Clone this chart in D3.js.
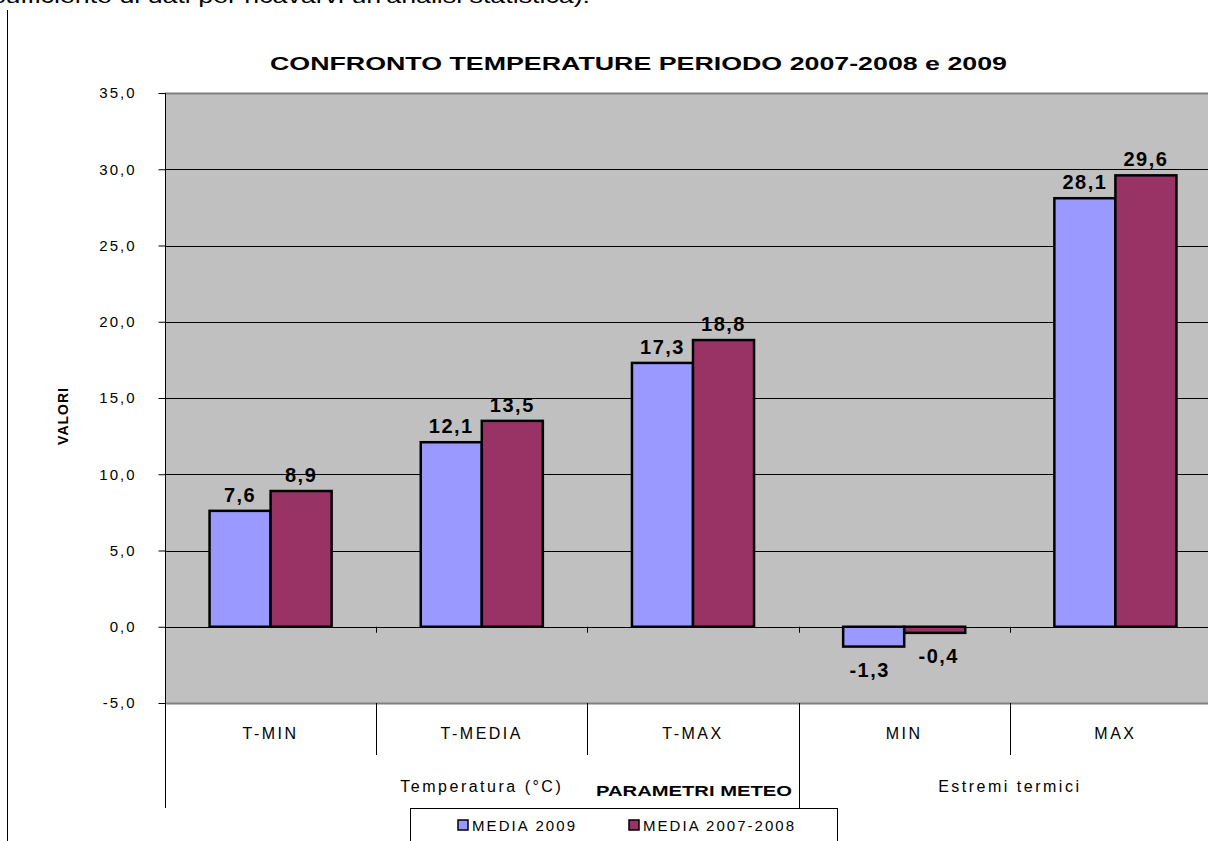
<!DOCTYPE html>
<html>
<head>
<meta charset="utf-8">
<script src="https://cdn.jsdelivr.net/npm/d3@7"></script>
<style>
body { margin: 0; background: #fff; }
svg { display: block; font-family: Arial, "Liberation Sans", sans-serif; }
</style>
</head>
<body>
<script>
// dati
var categories = ["T-MIN", "T-MEDIA", "T-MAX", "MIN", "MAX"];
var groups = [{name: "Temperatura (°C)", from: 0, to: 3}, {name: "Estremi termici", from: 3, to: 5}];
var series = ["MEDIA 2009", "MEDIA 2007-2008"];
var media2009 = [7.6, 12.1, 17.3, -1.3, 28.1];
var media0708 = [8.9, 13.5, 18.8, -0.4, 29.6];
var colors = ["#9999FF", "#993366"];
var yTicks = [-5, 0, 5, 10, 15, 20, 25, 30, 35];

var W = 1208, H = 841;
var svg = d3.select("body").append("svg").attr("width", W).attr("height", H);

var pLeft = 165, pRight = 1221, pTop = 93, pBottom = 703;
var fmt = function(v){ return d3.format(".1f")(v).replace(".", ",").replace("\u2212", "-"); };

var x = d3.scaleBand().domain(categories).range([pLeft, pRight]);
var xs = d3.scaleBand().domain(series).range([0, x.bandwidth()]).paddingInner(0).paddingOuter(0.73);
var y = d3.scaleLinear().domain([-5, 35]).range([pBottom, pTop]);

// testo tagliato in alto
svg.append("text").attr("x", -8).attr("y", 3).attr("font-size", 21).attr("fill", "#000")
    .attr("textLength", 598).attr("lengthAdjust", "spacingAndGlyphs")
    .text("sufficiente di dati per ricavarvi un'analisi statistica).");

// riga verticale a sinistra
svg.append("line").attr("x1", 7.5).attr("x2", 7.5).attr("y1", 10).attr("y2", H).attr("stroke", "#000");

// area grafico
svg.append("rect").attr("x", pLeft).attr("y", pTop).attr("width", pRight - pLeft).attr("height", pBottom - pTop)
    .attr("fill", "#C0C0C0");

// griglia
svg.selectAll(".grid").data(yTicks.filter(function(d){ return d > -5 && d < 35; })).enter().append("line")
    .attr("x1", pLeft).attr("x2", pRight)
    .attr("y1", function(d){ return Math.round(y(d)) + 0.5; })
    .attr("y2", function(d){ return Math.round(y(d)) + 0.5; })
    .attr("stroke", "#000");
[35, -5].forEach(function(v){
    svg.append("line").attr("x1", pLeft).attr("x2", pRight)
        .attr("y1", Math.round(y(v)) + 0.5).attr("y2", Math.round(y(v)) + 0.5)
        .attr("stroke", "#808080").attr("stroke-width", 2);
});

// asse y
var yAxis = svg.append("g").attr("transform", "translate(" + (pLeft + 0.5) + ",0)")
    .call(d3.axisLeft(y).tickValues(yTicks).tickFormat(fmt).tickSize(7).tickPadding(20));
yAxis.select(".domain").remove();
yAxis.selectAll(".tick line").attr("stroke", "#000");
yAxis.selectAll("text").attr("font-size", 15).attr("letter-spacing", 2).attr("fill", "#000")
    .attr("dx", -2);
svg.append("line").attr("x1", pLeft + 0.5).attr("x2", pLeft + 0.5).attr("y1", pTop).attr("y2", 808).attr("stroke", "#000");

svg.append("text").attr("transform", "translate(68,416) rotate(-90)")
    .attr("text-anchor", "middle").attr("font-size", 14).attr("font-weight", "bold")
    .attr("letter-spacing", 1).text("VALORI");

// barre
var data = categories.map(function(c, i){ return {cat: c, vals: [media2009[i], media0708[i]]}; });
var cg = svg.selectAll(".cat").data(data).enter().append("g")
    .attr("transform", function(d){ return "translate(" + x(d.cat) + ",0)"; });
cg.selectAll("rect").data(function(d){ return d.vals.map(function(v, j){ return {s: series[j], v: v, j: j}; }); })
    .enter().append("rect")
    .attr("x", function(d){ return xs(d.s); })
    .attr("width", xs.bandwidth())
    .attr("y", function(d){ return y(Math.max(0, d.v)); })
    .attr("height", function(d){ return Math.abs(y(d.v) - y(0)); })
    .attr("fill", function(d){ return colors[d.j]; })
    .attr("stroke", "#000").attr("stroke-width", 2.5);
cg.selectAll(".lbl").data(function(d){ return d.vals.map(function(v, j){ return {s: series[j], v: v, j: j}; }); })
    .enter().append("text")
    .attr("x", function(d){ return xs(d.s) + xs.bandwidth() / 2 - (d.v < 0 ? (d.j === 0 ? 4 : -4) : 0); })
    .attr("y", function(d){ return d.v >= 0 ? y(d.v) - 9 : y(d.v) + 30; })
    .attr("text-anchor", "middle").attr("font-size", 20).attr("font-weight", "bold")
    .attr("letter-spacing", 1.5)
    .text(function(d){ return fmt(d.v); });

// tacche sull'asse dello zero
svg.selectAll(".zt").data(categories.slice(1)).enter().append("line")
    .attr("x1", function(d){ return Math.round(x(d)) + 0.5; })
    .attr("x2", function(d){ return Math.round(x(d)) + 0.5; })
    .attr("y1", y(0)).attr("y2", y(0) + 6).attr("stroke", "#000");

// etichette categorie
svg.selectAll(".cl").data(categories).enter().append("text")
    .attr("x", function(d){ return x(d) + x.bandwidth() / 2; }).attr("y", 739)
    .attr("text-anchor", "middle").attr("font-size", 16).attr("letter-spacing", 2.5)
    .text(function(d){ return d; });
svg.selectAll(".cs").data(categories.slice(1)).enter().append("line")
    .attr("x1", function(d){ return Math.round(x(d)) + 0.5; })
    .attr("x2", function(d){ return Math.round(x(d)) + 0.5; })
    .attr("y1", pBottom).attr("y2", function(d){ return categories.indexOf(d) === groups[1].from ? 808 : 755; })
    .attr("stroke", "#000");

// gruppi
svg.selectAll(".gl").data(groups).enter().append("text")
    .attr("x", function(d){ return (x(categories[d.from]) + x(categories[d.to - 1]) + x.bandwidth()) / 2; })
    .attr("y", 792).attr("text-anchor", "middle").attr("font-size", 16).attr("letter-spacing", 2.5)
    .text(function(d){ return d.name; });

svg.append("text").attr("x", 596).attr("y", 796)
    .attr("font-size", 15).attr("font-weight", "bold")
    .attr("textLength", 196).attr("lengthAdjust", "spacingAndGlyphs").text("PARAMETRI METEO");

// titolo
svg.append("text").attr("x", 270).attr("y", 70)
    .attr("font-size", 18).attr("font-weight", "bold")
    .attr("textLength", 737).attr("lengthAdjust", "spacingAndGlyphs")
    .text("CONFRONTO TEMPERATURE PERIODO 2007-2008 e 2009");

// legenda
svg.append("rect").attr("x", 410.5).attr("y", 808.5).attr("width", 427).attr("height", 40)
    .attr("fill", "#fff").attr("stroke", "#000");
var lx = [458, 629];
var lw = [103, 151];
series.forEach(function(s, i){
    svg.append("rect").attr("x", lx[i]).attr("y", 820).attr("width", 10).attr("height", 10)
        .attr("fill", colors[i]).attr("stroke", "#000").attr("stroke-width", 1.5);
    svg.append("text").attr("x", lx[i] + 14).attr("y", 831).attr("font-size", 15)
        .attr("textLength", lw[i]).attr("lengthAdjust", "spacing").text(s);
});
</script>
</body>
</html>
